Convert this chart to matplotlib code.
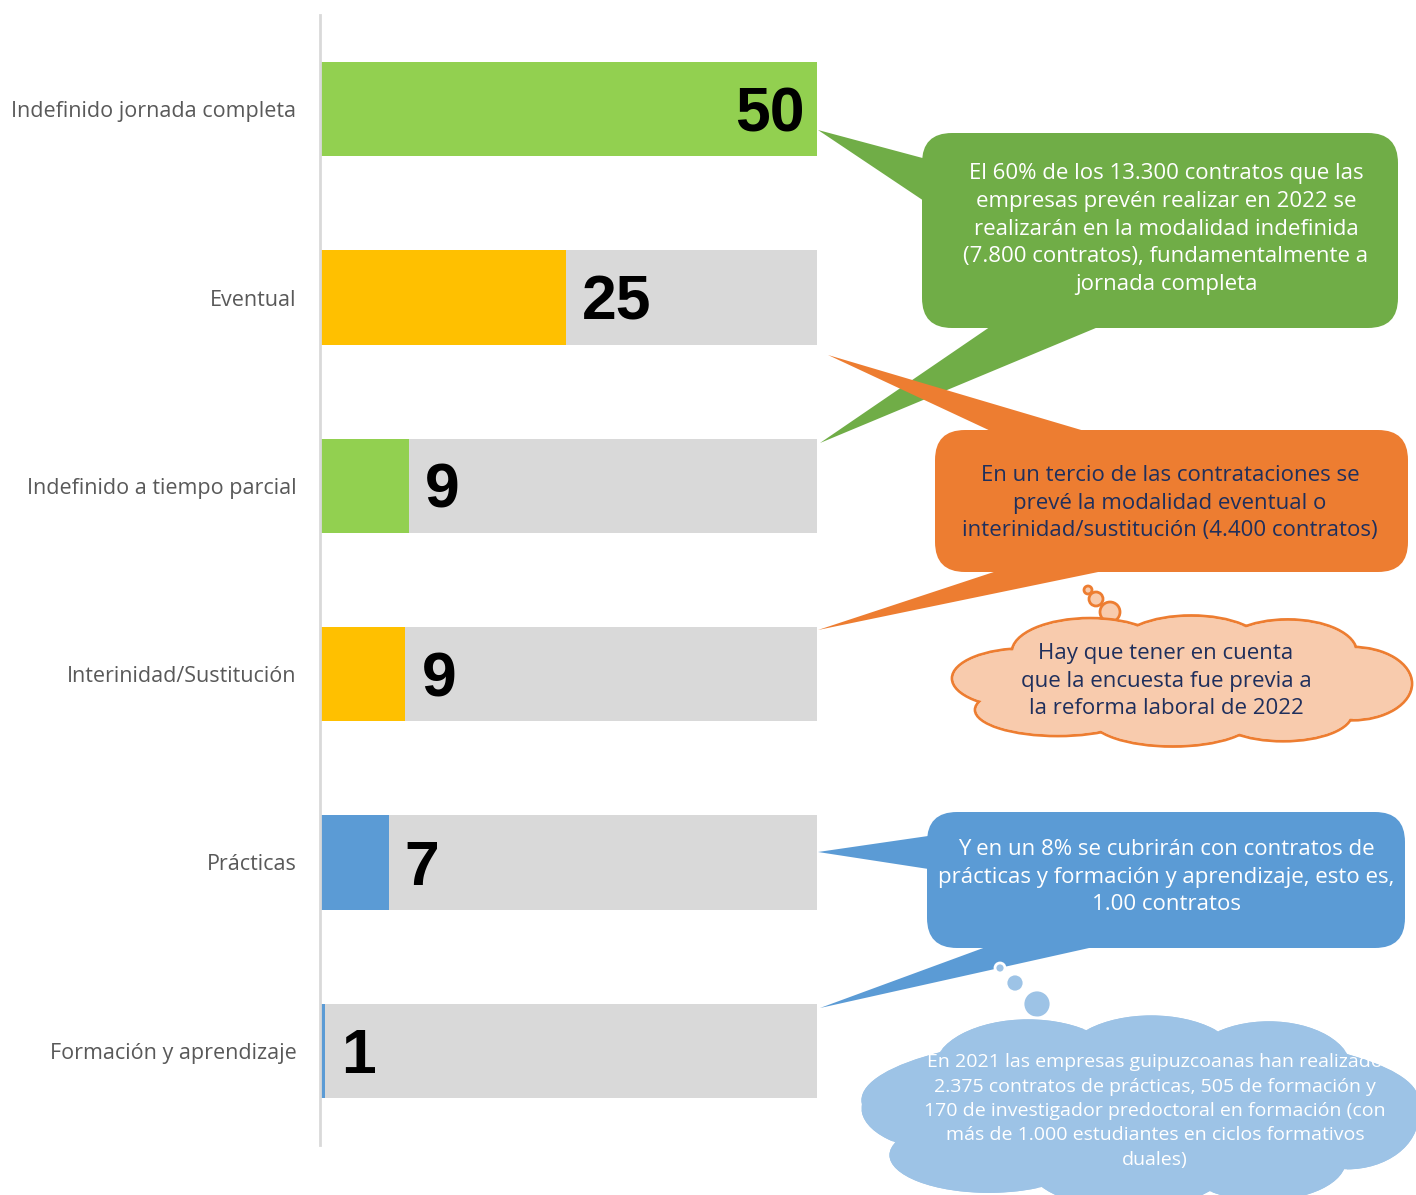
import matplotlib
matplotlib.use("Agg")
import matplotlib.pyplot as plt
from matplotlib.patches import FancyBboxPatch, Polygon, Ellipse, Circle

# data
categories = ["Indefinido jornada completa", "Eventual", "Indefinido a tiempo parcial",
              "Interinidad/Sustitución", "Prácticas", "Formación y aprendizaje"]
values = [50, 24.7, 9, 8.6, 6.9, 0.5]
value_labels = ["50", "25", "9", "9", "7", "1"]
bar_colors = ["#92D050", "#FFC000", "#92D050", "#FFC000", "#5B9BD5", "#5B9BD5"]
total = 50

txt_green = ("El 60% de los 13.300 contratos que las\nempresas prevén realizar en 2022 se\n"
             "realizarán en la modalidad indefinida\n(7.800 contratos), fundamentalmente a\njornada completa")
txt_orange = ("En un tercio de las contrataciones se\nprevé la modalidad eventual o\n"
              "interinidad/sustitución (4.400 contratos)")
txt_peach = "Hay que tener en cuenta\nque la encuesta fue previa a\nla reforma laboral de 2022"
txt_blue = ("Y en un 8% se cubrirán con contratos de\nprácticas y formación y aprendizaje, esto es,\n"
            "1.00 contratos")
txt_cloud = ("En 2021 las empresas guipuzcoanas han realizado\n2.375 contratos de prácticas, 505 de formación y\n"
             "170 de investigador predoctoral en formación (con\nmás de 1.000 estudiantes en ciclos formativos\nduales)")

W, H = 1416, 1195
plt.rcParams['font.family'] = ['Open Sans', 'DejaVu Sans']
fig = plt.figure(figsize=(W / 100, H / 100), dpi=100)

ax = fig.add_axes([320 / W, 50 / H, 497 / W, 1130 / H])
y = list(range(len(categories)))
ax.barh(y, [total] * len(y), height=0.5, color="#D9D9D9", zorder=1)
ax.barh(y, values, height=0.5, color=bar_colors, zorder=2)
ax.set_xlim(0, total)
ax.set_ylim(len(categories) - 0.5, -0.5)
ax.set_yticks(y)
ax.set_yticklabels(categories, fontsize=15.5, color="#595959")
ax.tick_params(axis="y", length=0, pad=17)
ax.set_xticks([])
for s in ["top", "right", "bottom"]:
    ax.spines[s].set_visible(False)
ax.spines["left"].set_color("#D9D9D9")
ax.spines["left"].set_linewidth(2)

for i, (v, lab) in enumerate(zip(values, value_labels)):
    if v >= total * 0.9:
        ax.text(v - 1.2, i + 0.03, lab, ha="right", va="center", fontsize=45, fontweight="bold",
                family="Liberation Sans", color="black", zorder=3)
    else:
        ax.text(v + 1.6, i + 0.03, lab, ha="left", va="center", fontsize=45, fontweight="bold",
                family="Liberation Sans", color="black", zorder=3)

# overlay in pixel coordinates for the callouts
ov = fig.add_axes([0, 0, 1, 1], zorder=5)
ov.set_xlim(0, W)
ov.set_ylim(H, 0)
ov.axis("off")
ov.patch.set_alpha(0)


def bubble(x0, y0, x1, y1, color, tails):
    for t in tails:
        ov.add_patch(Polygon(t, closed=True, facecolor=color, edgecolor="none", zorder=2))
    ov.add_patch(FancyBboxPatch((x0, y0), x1 - x0, y1 - y0,
                                boxstyle="round,pad=0,rounding_size=30",
                                facecolor=color, edgecolor="none", zorder=3))


lobes = [(-0.34, -0.02, 0.32, 0.46), (-0.27, 0.22, 0.36, 0.40), (-0.20, -0.22, 0.34, 0.52),
         (0.02, -0.26, 0.32, 0.48), (0.23, -0.22, 0.30, 0.50), (0.37, 0.02, 0.26, 0.56),
         (0.22, 0.25, 0.30, 0.42), (-0.02, 0.28, 0.36, 0.44), (0.0, 0.0, 0.8, 0.7)]


def cloud(cx, cy, w, h, face, edge, extra=()):
    shapes = lobes + list(extra)
    for dx, dy, ew, eh in shapes:
        ov.add_patch(Ellipse((cx + dx * w, cy + dy * h), ew * w, eh * h,
                             facecolor=face, edgecolor=edge, linewidth=2, zorder=3))
    for dx, dy, ew, eh in shapes:
        ov.add_patch(Ellipse((cx + dx * w, cy + dy * h), ew * w - 3, eh * h - 3,
                             facecolor=face, edgecolor="none", zorder=4))


# green callout
bubble(922, 133, 1398, 328, "#70AD47",
       [[(818, 130), (930, 160), (930, 205)], [(1000, 320), (1115, 320), (820, 443)]])
ov.text(1166, 229, txt_green, ha="center", va="center", fontsize=16, color="white",
        linespacing=1.42, zorder=6)

# orange callout
bubble(935, 430, 1408, 572, "#ED7D31",
       [[(828, 355), (1010, 440), (1115, 440)], [(1015, 565), (1132, 565), (818, 630)]])
ov.text(1170, 503, txt_orange, ha="center", va="center", fontsize=16, color="#1F2F5C",
        linespacing=1.42, zorder=6)

# peach thought cloud
for cx, cy, r in [(1088, 590, 4), (1096, 599, 7), (1110, 612, 10)]:
    ov.add_patch(Circle((cx, cy), r, facecolor="#F8CBAD", edgecolor="#ED7D31", linewidth=2, zorder=3))
cloud(1182, 681, 460, 131, "#F8CBAD", "#ED7D31")
ov.text(1166, 681, txt_peach, ha="center", va="center", fontsize=16, color="#1F2F5C",
        linespacing=1.42, zorder=6)

# blue callout
bubble(927, 812, 1405, 948, "#5B9BD5",
       [[(818, 852), (935, 835), (935, 870)], [(1005, 940), (1125, 940), (820, 1008)]])
ov.text(1166, 877, txt_blue, ha="center", va="center", fontsize=16, color="white",
        linespacing=1.42, zorder=6)

# light blue thought cloud
for cx, cy, r in [(1000, 968, 5), (1015, 983, 9), (1037, 1004, 14)]:
    ov.add_patch(Circle((cx, cy), r, facecolor="#9DC3E6", edgecolor="white", linewidth=2, zorder=3))
cloud(1140, 1112, 560, 196, "#9DC3E6", "white", extra=[(0.0, -0.06, 1.0, 0.72)])
ov.text(1155, 1111, txt_cloud, ha="center", va="center", fontsize=14, color="white",
        linespacing=1.45, zorder=6)

fig.savefig("out.png", dpi=100, facecolor="white")
